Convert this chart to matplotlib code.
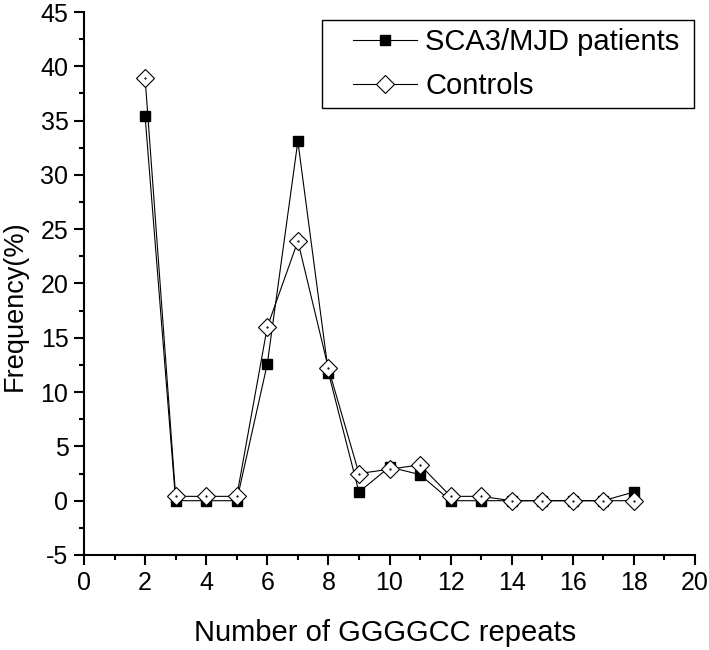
import numpy as np
import matplotlib.pyplot as plt
from matplotlib.ticker import MultipleLocator
from matplotlib.patches import Rectangle

plt.rcParams['font.family'] = ['Liberation Sans', 'DejaVu Sans']
plt.rcParams['axes.unicode_minus'] = False

repeats = [2, 3, 4, 5, 6, 7, 8, 9, 10, 11, 12, 13, 14, 15, 16, 17, 18]
patients = [35.4, 0, 0, 0, 12.6, 33.1, 11.8, 0.8, 3.1, 2.4, 0, 0, 0, 0, 0, 0, 0.8]
controls = [38.9, 0.4, 0.4, 0.4, 16.0, 23.9, 12.2, 2.5, 2.9, 3.3, 0.4, 0.4, 0, 0, 0, 0, 0]

W, H = 709, 650
fig = plt.figure(figsize=(W / 100, H / 100), dpi=100)
# оси: x=0 на 84px, x=20 на 695px; y=45 на 12px, y=-5 на 555px
ax = fig.add_axes([84 / W, 1 - 555 / H, 611 / W, 543 / H])

ax.plot(repeats, patients, '-', color='black', lw=0.8, marker='s', ms=7.5,
        mfc='black', mec='black', label='SCA3/MJD patients', zorder=2)
ax.plot(repeats, controls, '-', color='black', lw=0.8, marker='D', ms=9,
        mfc='white', mec='black', mew=0.8, label='Controls', zorder=3)
ax.plot(repeats, controls, ' ', marker='.', ms=1.2, color='black', zorder=4)

ax.set_xlim(0, 20)
ax.set_ylim(-5, 45)
ax.xaxis.set_major_locator(MultipleLocator(2))
ax.xaxis.set_minor_locator(MultipleLocator(1))
ax.yaxis.set_major_locator(MultipleLocator(5))
ax.yaxis.set_minor_locator(MultipleLocator(2.5))
ax.tick_params(which='major', direction='out', length=7.2, width=1.5, labelsize=18, pad=4)
ax.tick_params(which='minor', direction='out', length=3.6, width=1.5)
for s in ['top', 'right']:
    ax.spines[s].set_visible(False)
for s in ['left', 'bottom']:
    ax.spines[s].set_linewidth(1.5)

ax.set_xlabel('Number of GGGGCC repeats', fontsize=21)
ax.set_ylabel('Frequency(%)', fontsize=19.5)
ax.xaxis.set_label_coords(0.492, (555 - 619) / 543)
ax.yaxis.set_label_coords((28 - 84) / 611, (555 - 306) / 543)

# легенда без рамки + рамка отдельно, как в Origin
leg = ax.legend(loc='upper left', bbox_to_anchor=(353 / W, 1 - 28 / H),
                bbox_transform=fig.transFigure, fontsize=21, frameon=False,
                handlelength=2.2, handletextpad=0.28, borderpad=0,
                labelspacing=0.56, borderaxespad=0)
for h in leg.legend_handles:
    h.set_linewidth(0.8)
fig.add_artist(Rectangle((322 / W, 1 - 108 / H), 372 / W, 88 / H,
                         transform=fig.transFigure, fill=False,
                         edgecolor='black', linewidth=1.0))

plt.savefig('out.png', dpi=100)
